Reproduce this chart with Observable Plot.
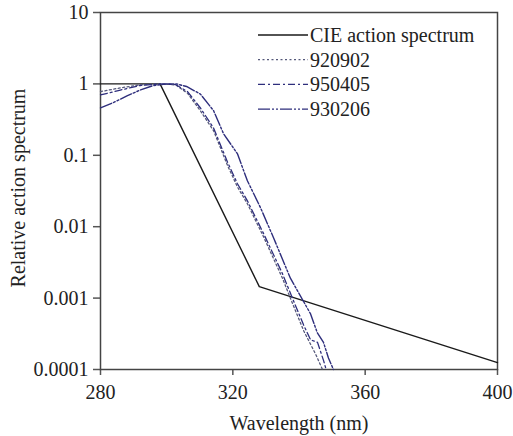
<!DOCTYPE html>
<html>
<head>
<meta charset="utf-8">
<script src="https://cdn.jsdelivr.net/npm/d3@7"></script>
<script src="https://cdn.jsdelivr.net/npm/@observablehq/plot@0.6"></script>
<style>
  html, body { margin: 0; padding: 0; background: #fff; }
  #wrap { position: relative; width: 513px; height: 436px; font-family: "Liberation Serif", Tinos, "Times New Roman", "DejaVu Serif", serif; }
</style>
</head>
<body>
<div id="wrap"></div>
<script>
// ---- data ----
const xTicks = [280, 320, 360, 400];
const yTicks = [0.0001, 0.001, 0.01, 0.1, 1, 10];
const yTickLabels = ["0.0001", "0.001", "0.01", "0.1", "1", "10"];

const seriesNames = ["CIE action spectrum", "920902", "950405", "930206"];

// CIE action spectrum
const cieWl  = [280, 298, 328, 400];
const cieVal = [1, 1, 0.00145, 0.000125];

// 920902 (dotted)
const s920902Wl  = [280, 286, 292, 298, 302.7, 306.3, 310.2, 314.2, 318.4, 321.4, 324.4, 329.3, 335, 338, 341.4, 345, 347.1];
const s920902Val = [0.78, 0.88, 0.97, 1.0, 0.97, 0.74, 0.42, 0.22, 0.072, 0.036, 0.021, 0.0072, 0.0019, 0.00085, 0.00035, 0.000165, 0.0001];

// 950405 (dash-dot)
const s950405Wl  = [280, 286, 292, 298, 302.7, 306.3, 310.2, 314.2, 318.4, 321.4, 324.4, 329.3, 335, 338, 341.4, 343.5, 345.6, 347.5, 348.2];
const s950405Val = [0.70, 0.82, 0.95, 1.0, 0.98, 0.78, 0.46, 0.24, 0.08, 0.04, 0.023, 0.008, 0.0022, 0.001, 0.00042, 0.00026, 0.00024, 0.00013, 0.0001];

// 930206 (dash-dot-dot)
const s930206Wl  = [280, 284, 288, 292, 296, 300, 303, 306, 310.2, 314.2, 317.2, 321.4, 324.4, 328.4, 332.3, 337.4, 343.5, 345.5, 347.4, 348.9, 350.4];
const s930206Val = [0.46, 0.55, 0.68, 0.82, 0.95, 1.0, 1.0, 0.92, 0.72, 0.42, 0.2, 0.105, 0.044, 0.0183, 0.007, 0.0019, 0.0006, 0.00033, 0.00024, 0.000145, 0.0001];

const toRows = (wl, val) => wl.map((w, i) => ({wl: w, v: val[i]}));
const cie = toRows(cieWl, cieVal);
const d920902 = toRows(s920902Wl, s920902Val);
const d950405 = toRows(s950405Wl, s950405Val);
const d930206 = toRows(s930206Wl, s930206Val);

const FONT = "'Liberation Serif', Tinos, 'Times New Roman', 'DejaVu Serif', serif";
const navy = "#2e2e7c";
const styles = [
  {stroke: "#1a1a1a", dash: null, width: 1.4},
  {stroke: "#55587a", dash: "2,2.5", width: 1.3},
  {stroke: navy, dash: "7,3,2,3", width: 1.3},
  {stroke: navy, dash: "12,2,2,2,2,2", width: 1.4}
];

const chart = Plot.plot({
  width: 513,
  height: 436,
  marginLeft: 100,
  marginRight: 16,
  marginTop: 12,
  marginBottom: 67,
  style: {fontFamily: FONT, fontSize: "20px", color: "#222", background: "#fff"},
  x: {domain: [280, 400]},
  y: {type: "log", domain: [0.0001, 10]},
  marks: [
    Plot.axisY({ticks: yTicks, tickFormat: d => yTickLabels[yTicks.indexOf(d)], tickSize: 7, tickPadding: 5, label: null, stroke: "#555", strokeWidth: 1.5}),
    Plot.axisX({ticks: xTicks, tickFormat: d => String(d), tickSize: 6, tickPadding: 9, label: null, stroke: "#555", strokeWidth: 1.5}),
    Plot.frame({stroke: "#444", strokeWidth: 1.5}),
    Plot.line(cie, {x: "wl", y: "v", stroke: styles[0].stroke, strokeWidth: styles[0].width}),
    Plot.line(d920902, {x: "wl", y: "v", stroke: styles[1].stroke, strokeWidth: styles[1].width, strokeDasharray: styles[1].dash}),
    Plot.line(d950405, {x: "wl", y: "v", stroke: styles[2].stroke, strokeWidth: styles[2].width, strokeDasharray: styles[2].dash}),
    Plot.line(d930206, {x: "wl", y: "v", stroke: styles[3].stroke, strokeWidth: styles[3].width, strokeDasharray: styles[3].dash}),
    Plot.text(["Wavelength (nm)"], {frameAnchor: "bottom", textAnchor: "middle", lineAnchor: "bottom", dy: 60, fontSize: 20, fill: "#222"}),
    Plot.text(["Relative action spectrum"], {frameAnchor: "left", textAnchor: "middle", lineAnchor: "middle", rotate: -90, dx: -82, dy: -3, fontSize: 20, fill: "#222"})
  ]
});

const wrap = document.getElementById("wrap");
wrap.appendChild(chart);

// legend overlay
const ns = "http://www.w3.org/2000/svg";
const leg = document.createElementNS(ns, "svg");
leg.setAttribute("width", 250);
leg.setAttribute("height", 110);
leg.style.position = "absolute";
leg.style.left = "250px";
leg.style.top = "20px";
seriesNames.forEach((name, i) => {
  const cy = 15 + i * 24.7;
  const ln = document.createElementNS(ns, "line");
  ln.setAttribute("x1", 8); ln.setAttribute("x2", 58);
  ln.setAttribute("y1", cy); ln.setAttribute("y2", cy);
  ln.setAttribute("stroke", styles[i].stroke);
  ln.setAttribute("stroke-width", styles[i].width);
  if (styles[i].dash) ln.setAttribute("stroke-dasharray", styles[i].dash);
  leg.appendChild(ln);
  const t = document.createElementNS(ns, "text");
  t.setAttribute("x", 60); t.setAttribute("y", cy + 7);
  t.setAttribute("font-size", 20);
  t.setAttribute("font-family", FONT);
  t.setAttribute("fill", "#222");
  t.textContent = name;
  leg.appendChild(t);
});
wrap.appendChild(leg);
</script>
</body>
</html>
